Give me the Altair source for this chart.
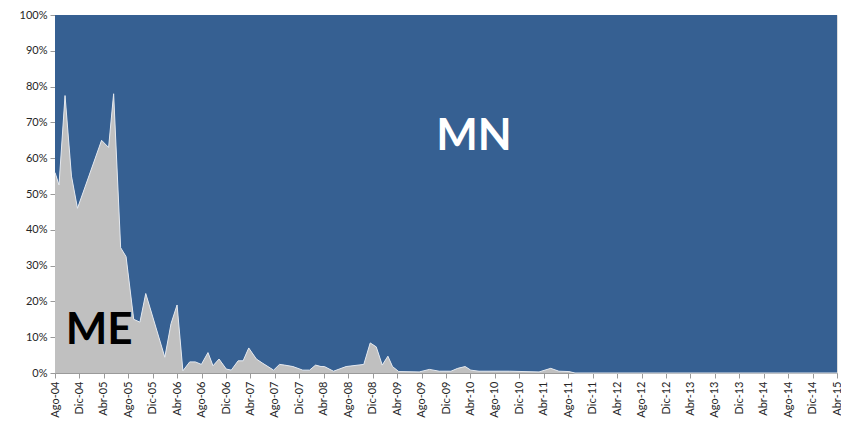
import altair as alt
import pandas as pd

# ME share (%); MN is the remainder to 100%
dates = [
    "2004-08-01", "2004-08-21", "2004-09-20", "2004-10-22", "2004-11-21",
    "2005-03-21", "2005-04-25", "2005-05-20", "2005-06-24", "2005-07-21",
    "2005-08-28", "2005-09-28", "2005-10-27", "2006-01-30", "2006-03-02",
    "2006-04-01", "2006-04-30", "2006-06-03", "2006-07-01", "2006-07-31",
    "2006-09-02", "2006-09-27", "2006-10-27", "2006-12-02", "2006-12-27",
    "2007-01-30", "2007-02-24", "2007-03-24", "2007-05-01", "2007-06-02",
    "2007-07-26", "2007-08-24", "2007-09-19", "2007-10-30", "2007-12-18",
    "2008-01-21", "2008-02-20", "2008-03-18", "2008-04-04", "2008-05-19",
    "2008-07-21", "2008-10-17", "2008-11-18", "2008-12-18", "2009-01-17",
    "2009-02-14", "2009-03-09", "2009-04-09", "2009-07-20", "2009-09-09",
    "2009-10-28", "2009-12-25", "2010-01-28", "2010-03-06", "2010-04-03",
    "2010-05-14", "2010-10-11", "2011-03-09", "2011-05-06", "2011-06-16",
    "2011-08-05", "2011-09-04", "2015-04-01",
]
me = [
    56.0, 52.5, 77.5, 55.0, 46.0,
    65.0, 63.0, 78.0, 35.0, 32.5,
    15.0, 14.2, 22.2, 4.4, 13.8,
    19.0, 0.6, 3.1, 3.1, 2.4,
    5.7, 2.0, 3.9, 1.1, 0.8,
    3.4, 3.4, 7.0, 3.9, 2.7,
    0.8, 2.4, 2.2, 1.8, 0.8,
    0.8, 2.2, 1.8, 1.8, 0.5,
    1.8, 2.4, 8.4, 7.3, 2.2,
    4.7, 1.8, 0.4, 0.3, 1.0,
    0.5, 0.5, 1.3, 1.8, 0.8,
    0.5, 0.5, 0.3, 1.3, 0.5,
    0.4, 0.0, 0.0,
]

tick_dates = [
    (2004, 8), (2004, 12), (2005, 4), (2005, 8), (2005, 12), (2006, 4),
    (2006, 8), (2006, 12), (2007, 4), (2007, 8), (2007, 12), (2008, 4),
    (2008, 8), (2008, 12), (2009, 4), (2009, 8), (2009, 12), (2010, 4),
    (2010, 8), (2010, 12), (2011, 4), (2011, 8), (2011, 12), (2012, 4),
    (2012, 8), (2012, 12), (2013, 4), (2013, 8), (2013, 12), (2014, 4),
    (2014, 8), (2014, 12), (2015, 4),
]
month_names = ["Ene", "Feb", "Mar", "Abr", "May", "Jun", "Jul", "Ago",
               "Sep", "Oct", "Nov", "Dic"]

labels_txt = ["ME", "MN"]
labels_date = ["2005-03-09", "2010-04-19"]
labels_val = [11.8, 65.9]
labels_col = ["#000000", "#ffffff"]

rows = []
for d, v in zip(dates, me):
    rows.append({"date": d, "serie": "ME", "ord": 0, "val": v})
    rows.append({"date": d, "serie": "MN", "ord": 1, "val": 100 - v})
df = pd.DataFrame(rows)
df_me = pd.DataFrame({"date": dates, "val": me})
df_lab = pd.DataFrame({"date": labels_date, "val": labels_val,
                       "txt": labels_txt, "col": labels_col})

FONT = "Lato"
xscale = alt.Scale(type="utc", domain=[alt.DateTime(year=2004, month=8, date=1, utc=True),
                                       alt.DateTime(year=2015, month=4, date=1, utc=True)])
yscale = alt.Scale(domain=[0, 100])

arr = "[" + ",".join("'%s'" % m for m in month_names) + "]"
xaxis = alt.Axis(
    values=[alt.DateTime(year=y, month=m, date=1, utc=True) for y, m in tick_dates],
    tickCount=200,
    labelExpr=arr + "[utcmonth(datum.value)] + '-' + utcFormat(datum.value, '%y')",
    labelAngle=270, labelFontSize=11, labelColor="#262626", labelFont=FONT,
    labelPadding=3, tickColor="#9a9a9a", tickSize=5, domainColor="#9a9a9a",
    grid=False, title=None, labelOverlap=False, labelFlush=False,
)
yaxis = alt.Axis(
    values=list(range(0, 101, 10)), tickCount=200,
    labelExpr="datum.value + '%'",
    labelFontSize=11, labelColor="#262626", labelFont=FONT, labelPadding=3,
    tickColor="#9a9a9a", tickSize=5, domainColor="#9a9a9a",
    grid=False, title=None, labelOverlap=False, labelFlush=False,
)

area = alt.Chart(df).mark_area(interpolate="linear").encode(
    x=alt.X("date:T", scale=xscale, axis=xaxis),
    y=alt.Y("val:Q", stack="zero", scale=yscale, axis=yaxis),
    color=alt.Color("serie:N", scale=alt.Scale(domain=["ME", "MN"],
                                               range=["#c0c0c0", "#366092"]),
                    legend=None),
    order=alt.Order("ord:Q"),
)

edge = alt.Chart(df_me).mark_line(color="#e4e8ee", strokeWidth=1).encode(
    x=alt.X("date:T", scale=xscale),
    y=alt.Y("val:Q", scale=yscale),
)

text = alt.Chart(df_lab).mark_text(
    font=FONT, fontSize=44, fontWeight="bold", baseline="middle", align="center"
).encode(
    x=alt.X("date:T", scale=xscale),
    y=alt.Y("val:Q", scale=yscale),
    text="txt:N",
    color=alt.Color("col:N", scale=None),
)

chart = alt.layer(area, edge, text).properties(
    width=782, height=358,
    autosize=alt.AutoSizeParams(type="none"),
    padding={"left": 47, "top": 7, "right": 4, "bottom": 45},
).configure_view(stroke=None).configure(background="white")

chart.save("out.html", embed_options={"renderer": "svg", "actions": False})
